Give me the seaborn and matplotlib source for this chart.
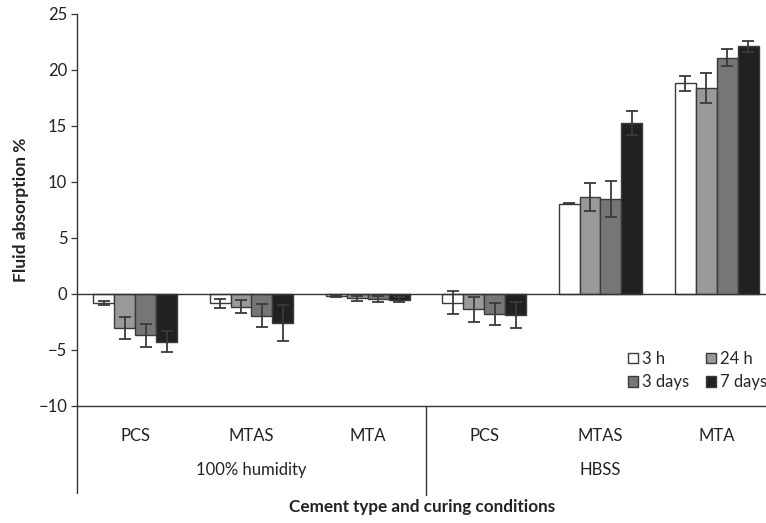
import matplotlib
matplotlib.use("Agg")
import matplotlib.pyplot as plt
import seaborn as sns
import pandas as pd
import numpy as np
from matplotlib.patches import Patch
from matplotlib.lines import Line2D

conditions = ["100% humidity", "100% humidity", "100% humidity", "HBSS", "HBSS", "HBSS"]
cements = ["PCS", "MTAS", "MTA", "PCS", "MTAS", "MTA"]
times = ["3 h", "24 h", "3 days", "7 days"]

values = {
    "3 h":    [-0.8, -0.83, -0.18, -0.77, 8.05, 18.8],
    "24 h":   [-3.05, -1.13, -0.39, -1.37, 8.7, 18.4],
    "3 days": [-3.7, -1.93, -0.45, -1.8, 8.45, 21.1],
    "7 days": [-4.25, -2.6, -0.5, -1.87, 15.25, 22.1],
}
errors = {
    "3 h":    [0.2, 0.4, 0.1, 1.0, 0.05, 0.7],
    "24 h":   [1.0, 0.6, 0.2, 1.1, 1.25, 1.35],
    "3 days": [1.0, 1.0, 0.25, 1.0, 1.6, 0.75],
    "7 days": [0.95, 1.6, 0.25, 1.2, 1.05, 0.5],
}
colors = {"3 h": "#ffffff", "24 h": "#999999", "3 days": "#767676", "7 days": "#231f20"}

cat_keys = [f"{c}|{m}" for c, m in zip(conditions, cements)]
rows = []
for t in times:
    for k, v in zip(cat_keys, values[t]):
        rows.append({"cat": k, "time": t, "val": v})
df = pd.DataFrame(rows)

sns.set_style("white")
plt.rcParams["font.family"] = ["Lato", "DejaVu Sans"]
FS = 12

fig = plt.figure(figsize=(7.66, 5.23), dpi=100)
ax = fig.add_axes([77/766, 1-406/523, 698/766, 392/523])

sns.barplot(data=df, x="cat", y="val", hue="time", order=cat_keys, hue_order=times,
            palette=colors, errorbar=None, width=0.72, gap=0, edgecolor="#3a3a3a",
            linewidth=1.0, ax=ax, legend=False)

for t, cont in zip(times, ax.containers):
    for bar, e, v in zip(cont, errors[t], values[t]):
        xc = bar.get_x() + bar.get_width()/2
        ax.errorbar(xc, v, yerr=e, fmt="none", ecolor="#3a3a3a", elinewidth=1.3,
                    capsize=4, capthick=1.3, zorder=5)

ax.set_ylim(-10, 25)
ax.set_xlim(-0.5, 5.5)
ax.set_yticks(np.arange(-10, 26, 5))
ax.set_yticklabels([("\u2212" + str(abs(v))) if v < 0 else str(v) for v in range(-10, 26, 5)])
ax.tick_params(axis="y", length=4, width=0.9, color="#333333", labelsize=FS, labelcolor="#222222", pad=3, left=True)
ax.tick_params(axis="x", length=0, labelbottom=False)
ax.axhline(0, color="#333333", lw=1.0, zorder=6)
for s in ["top", "right"]:
    ax.spines[s].set_visible(False)
for s in ["left", "bottom"]:
    ax.spines[s].set_color("#333333")
    ax.spines[s].set_linewidth(1.0)
ax.set_xlabel("")
ax.set_ylabel("Fluid absorption %", fontsize=12.5, fontweight="bold", color="#222222", labelpad=7)

trans = ax.get_xaxis_transform()
ax.add_line(Line2D([-0.5, -0.5], [0, -87/392], transform=trans, color="#333333", lw=1.0, clip_on=False))
ax.add_line(Line2D([2.5, 2.5], [0, -89/392], transform=trans, color="#333333", lw=1.0, clip_on=False))
for i, m in enumerate(cements):
    ax.text(i, -30/392, m, transform=trans, ha="center", va="center", fontsize=FS, color="#222222")
ax.text(1, -64/392, "100% humidity", transform=trans, ha="center", va="center", fontsize=FS, color="#222222")
ax.text(4, -64/392, "HBSS", transform=trans, ha="center", va="center", fontsize=FS, color="#222222")
fig.text(422/766, 1-507/523, "Cement type and curing conditions", ha="center", va="center",
         fontsize=12.3, fontweight="bold", color="#222222")

handles = [Patch(facecolor=colors[t], edgecolor="#3a3a3a", linewidth=1.0, label=t)
           for t in ["3 h", "3 days", "24 h", "7 days"]]
fig.legend(handles=handles, ncol=2, loc="upper left", bbox_to_anchor=(628/766, 1-351/523),
           frameon=False, fontsize=FS, handlelength=0.6, handleheight=0.6,
           handletextpad=0.25, columnspacing=1.0, labelspacing=0.45, borderpad=0,
           borderaxespad=0)

fig.savefig("out.png", dpi=100)
